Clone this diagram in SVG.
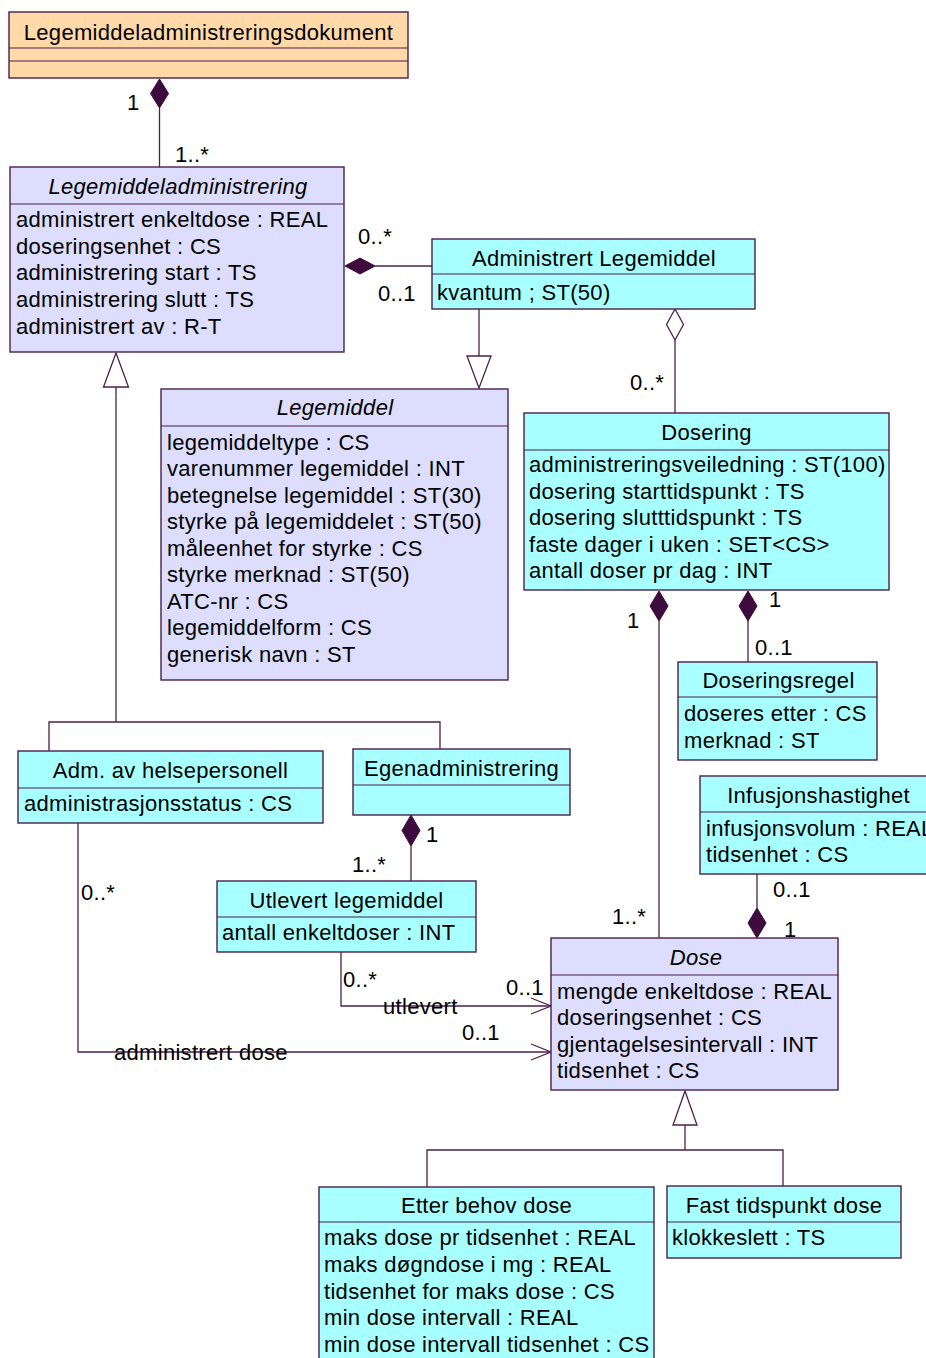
<svg xmlns="http://www.w3.org/2000/svg" width="926" height="1358" viewBox="0 0 926 1358">
  <style>
    text { font-family: "Liberation Sans", Arial, sans-serif; font-size: 22px; letter-spacing: 0.3px; fill: #000; }
    .hd { text-anchor: middle; }
    .it { font-style: italic; }
    .box { stroke: #4B1F4B; stroke-width: 1.4; }
    .sep { stroke: #4B1F4B; stroke-width: 1.2; fill: none; }
    .peach { fill: #FFD9A8; }
    .lav { fill: #DDDDFD; }
    .cyan { fill: #A8FFFF; }
    .ln { stroke: #4B1F4B; stroke-width: 1.3; fill: none; }
    .dia { fill: #3D0B3D; stroke: #3D0B3D; stroke-width: 1; }
    .hol { fill: #FFFFFF; stroke: #4B1F4B; stroke-width: 1.3; }
  </style>

  <!-- associations, compositions and generalizations -->
  <g id="connectors">
    <!-- Legemiddeladministreringsdokument 1 — 1..* Legemiddeladministrering -->
    <line class="ln" x1="159.5" y1="108" x2="159.5" y2="167"/>
    <polygon class="dia" points="159.5,79 168.5,93.5 159.5,108 150.5,93.5"/>
    <text x="127" y="110">1</text>
    <text x="175" y="162">1..*</text>

    <!-- Legemiddeladministrering — Administrert Legemiddel -->
    <line class="ln" x1="375" y1="266" x2="432" y2="266"/>
    <polygon class="dia" points="345,266 360,258 375,266 360,274"/>
    <text x="358" y="244">0..*</text>
    <text x="378" y="301">0..1</text>

    <!-- Administrert Legemiddel specializes Legemiddel -->
    <line class="ln" x1="479" y1="309" x2="479" y2="356"/>
    <polygon class="hol" points="467,356 491,356 479,388"/>

    <!-- Administrert Legemiddel aggregates Dosering -->
    <line class="ln" x1="675" y1="340" x2="675" y2="413"/>
    <polygon class="hol" points="675,309 683.5,324.5 675,340 666.5,324.5"/>
    <text x="630" y="390">0..*</text>

    <!-- Dosering composes Dose -->
    <line class="ln" x1="659" y1="621" x2="659" y2="938"/>
    <polygon class="dia" points="659,591 668,606 659,621 650,606"/>
    <text x="627" y="628">1</text>
    <text x="612" y="924">1..*</text>

    <!-- Dosering composes Doseringsregel -->
    <line class="ln" x1="748" y1="621" x2="748" y2="662"/>
    <polygon class="dia" points="748,591 757,606 748,621 739,606"/>
    <text x="769" y="607">1</text>
    <text x="755" y="655">0..1</text>

    <!-- Dose composes Infusjonshastighet -->
    <line class="ln" x1="757" y1="874" x2="757" y2="908"/>
    <polygon class="dia" points="757,908 766,923 757,938 748,923"/>
    <text x="773" y="897">0..1</text>
    <text x="784" y="937">1</text>

    <!-- Legemiddeladministrering generalization tree -->
    <polygon class="hol" points="116,353 128.5,387 103.5,387"/>
    <polyline class="ln" points="116,387 116,722"/>
    <polyline class="ln" points="49,751 49,722 440,722 440,749"/>

    <!-- Egenadministrering composes Utlevert legemiddel -->
    <line class="ln" x1="411" y1="846" x2="411" y2="881"/>
    <polygon class="dia" points="411,815 420,830.5 411,846 402,830.5"/>
    <text x="426" y="842">1</text>
    <text x="352" y="872">1..*</text>

    <!-- utlevert -->
    <polyline class="ln" points="341,952 341,1006 551,1006"/>
    <polyline class="ln" points="531,998 551,1006 531,1014"/>
    <text x="343" y="987">0..*</text>
    <text x="383" y="1014">utlevert</text>
    <text x="506" y="995">0..1</text>

    <!-- administrert dose -->
    <polyline class="ln" points="78,823 78,1052 551,1052"/>
    <polyline class="ln" points="531,1044 551,1052 531,1060"/>
    <text x="81" y="900">0..*</text>
    <text x="114" y="1060">administrert dose</text>
    <text x="462" y="1040">0..1</text>

    <!-- Dose generalization tree -->
    <polygon class="hol" points="685,1091 697,1125 673,1125"/>
    <polyline class="ln" points="685,1125 685,1150"/>
    <polyline class="ln" points="427,1187 427,1150 783,1150 783,1186"/>
  </g>

  <g id="legemiddeladministreringsdokument">
    <rect class="box peach" x="9" y="12" width="399" height="66"/>
    <line class="sep" x1="9" y1="48" x2="408" y2="48"/>
    <line class="sep" x1="9" y1="61" x2="408" y2="61"/>
    <text class="hd" x="208.5" y="40">Legemiddeladministreringsdokument</text>
  </g>

  <g id="legemiddeladministrering">
    <rect class="box lav" x="10" y="167" width="334" height="185"/>
    <line class="sep" x1="10" y1="204" x2="344" y2="204"/>
    <text class="hd it" x="178" y="194">Legemiddeladministrering</text>
    <text x="16" y="227">administrert enkeltdose : REAL</text>
    <text x="16" y="254">doseringsenhet : CS</text>
    <text x="16" y="280">administrering start : TS</text>
    <text x="16" y="307">administrering slutt : TS</text>
    <text x="16" y="334">administrert av : R-T</text>
  </g>

  <g id="administrert-legemiddel">
    <rect class="box cyan" x="432" y="239" width="323" height="70"/>
    <line class="sep" x1="432" y1="274" x2="755" y2="274"/>
    <text class="hd" x="594" y="266">Administrert Legemiddel</text>
    <text x="437" y="300">kvantum ; ST(50)</text>
  </g>

  <g id="legemiddel">
    <rect class="box lav" x="161" y="389" width="347" height="291"/>
    <line class="sep" x1="161" y1="426" x2="508" y2="426"/>
    <text class="hd it" x="335" y="415">Legemiddel</text>
    <text x="167" y="450">legemiddeltype : CS</text>
    <text x="167" y="476">varenummer legemiddel : INT</text>
    <text x="167" y="503">betegnelse legemiddel : ST(30)</text>
    <text x="167" y="529">styrke på legemiddelet : ST(50)</text>
    <text x="167" y="556">måleenhet for styrke : CS</text>
    <text x="167" y="582">styrke merknad : ST(50)</text>
    <text x="167" y="609">ATC-nr : CS</text>
    <text x="167" y="635">legemiddelform : CS</text>
    <text x="167" y="662">generisk navn : ST</text>
  </g>

  <g id="dosering">
    <rect class="box cyan" x="524" y="413" width="365" height="177"/>
    <line class="sep" x1="524" y1="450" x2="889" y2="450"/>
    <text class="hd" x="706.5" y="440">Dosering</text>
    <text x="529" y="472">administreringsveiledning : ST(100)</text>
    <text x="529" y="499">dosering starttidspunkt : TS</text>
    <text x="529" y="525">dosering slutttidspunkt : TS</text>
    <text x="529" y="552">faste dager i uken : SET&lt;CS&gt;</text>
    <text x="529" y="578">antall doser pr dag : INT</text>
  </g>

  <g id="doseringsregel">
    <rect class="box cyan" x="678" y="662" width="199" height="98"/>
    <line class="sep" x1="678" y1="697" x2="877" y2="697"/>
    <text class="hd" x="778.5" y="688">Doseringsregel</text>
    <text x="684" y="721">doseres etter : CS</text>
    <text x="684" y="748">merknad : ST</text>
  </g>

  <g id="infusjonshastighet">
    <rect class="box cyan" x="700" y="776" width="237" height="98"/>
    <line class="sep" x1="700" y1="812" x2="937" y2="812"/>
    <text class="hd" x="818.5" y="803">Infusjonshastighet</text>
    <text x="706" y="836">infusjonsvolum : REAL</text>
    <text x="706" y="862">tidsenhet : CS</text>
  </g>

  <g id="adm-av-helsepersonell">
    <rect class="box cyan" x="18" y="751" width="305" height="72"/>
    <line class="sep" x1="18" y1="788" x2="323" y2="788"/>
    <text class="hd" x="170.5" y="778">Adm. av helsepersonell</text>
    <text x="24" y="811">administrasjonsstatus : CS</text>
  </g>

  <g id="egenadministrering">
    <rect class="box cyan" x="353" y="749" width="217" height="66"/>
    <line class="sep" x1="353" y1="785" x2="570" y2="785"/>
    <text class="hd" x="461.5" y="776">Egenadministrering</text>
  </g>

  <g id="utlevert-legemiddel">
    <rect class="box cyan" x="217" y="881" width="259" height="71"/>
    <line class="sep" x1="217" y1="917" x2="476" y2="917"/>
    <text class="hd" x="346.5" y="908">Utlevert legemiddel</text>
    <text x="222" y="940">antall enkeltdoser : INT</text>
  </g>

  <g id="dose">
    <rect class="box lav" x="551" y="938" width="287" height="152"/>
    <line class="sep" x1="551" y1="975" x2="838" y2="975"/>
    <text class="hd it" x="696" y="965">Dose</text>
    <text x="557" y="999">mengde enkeltdose : REAL</text>
    <text x="557" y="1025">doseringsenhet : CS</text>
    <text x="557" y="1052">gjentagelsesintervall : INT</text>
    <text x="557" y="1078">tidsenhet : CS</text>
  </g>

  <g id="etter-behov-dose">
    <rect class="box cyan" x="319" y="1187" width="335" height="185"/>
    <line class="sep" x1="319" y1="1222" x2="654" y2="1222"/>
    <text class="hd" x="486.5" y="1213">Etter behov dose</text>
    <text x="324" y="1245">maks dose pr tidsenhet : REAL</text>
    <text x="324" y="1272">maks døgndose i mg : REAL</text>
    <text x="324" y="1299">tidsenhet for maks dose : CS</text>
    <text x="324" y="1325">min dose intervall : REAL</text>
    <text x="324" y="1352">min dose intervall tidsenhet : CS</text>
  </g>

  <g id="fast-tidspunkt-dose">
    <rect class="box cyan" x="667" y="1186" width="234" height="72"/>
    <line class="sep" x1="667" y1="1222" x2="901" y2="1222"/>
    <text class="hd" x="784" y="1213">Fast tidspunkt dose</text>
    <text x="672" y="1245">klokkeslett : TS</text>
  </g>
</svg>
